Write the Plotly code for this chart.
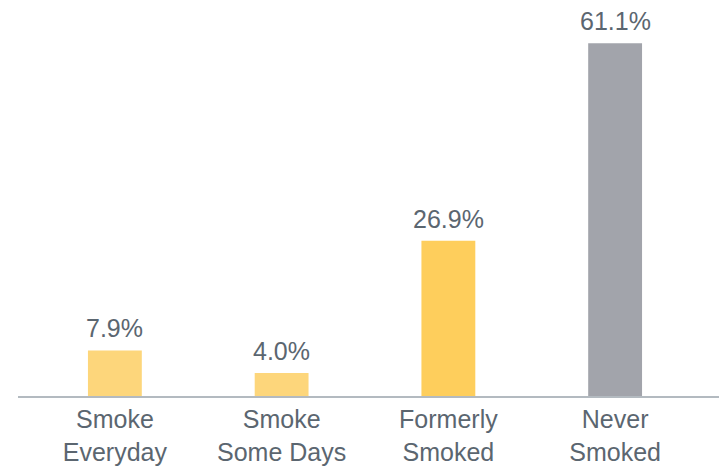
import plotly.graph_objects as go

categories = ["Smoke<br>Everyday", "Smoke<br>Some Days", "Formerly<br>Smoked", "Never<br>Smoked"]
values = [7.9, 4.0, 26.9, 61.1]
bar_colors = ["#FDD67B", "#FDD67B", "#FECE5C", "#A2A4AB"]

text_color = "#5B6670"
font_family = "Liberation Sans, Arial, sans-serif"

fig = go.Figure(
    go.Bar(
        x=categories,
        y=values,
        marker=dict(color=bar_colors, line=dict(width=0)),
        hoverinfo="x+y",
    )
)

# value labels sitting above each bar
for cat, v in zip(categories, values):
    fig.add_annotation(
        x=cat,
        y=v,
        text=f"{v:.1f}%",
        showarrow=False,
        yanchor="middle",
        yshift=22,
        font=dict(family=font_family, size=25, color=text_color),
    )

fig.update_layout(
    width=719,
    height=466,
    margin=dict(l=18, r=0, t=0, b=66),
    paper_bgcolor="white",
    plot_bgcolor="white",
    bargap=0.677,
    showlegend=False,
    font=dict(family=font_family, size=25, color=text_color),
)

fig.update_xaxes(
    range=[-0.581, 3.623],
    showline=True,
    linecolor="#B3BAC0",
    linewidth=2,
    ticks="",
    showgrid=False,
    tickfont=dict(family=font_family, size=25, color=text_color),
)
fig.update_yaxes(
    range=[0, 68.6],
    visible=False,
    showgrid=False,
    zeroline=False,
)

fig.write_html("out.html")
